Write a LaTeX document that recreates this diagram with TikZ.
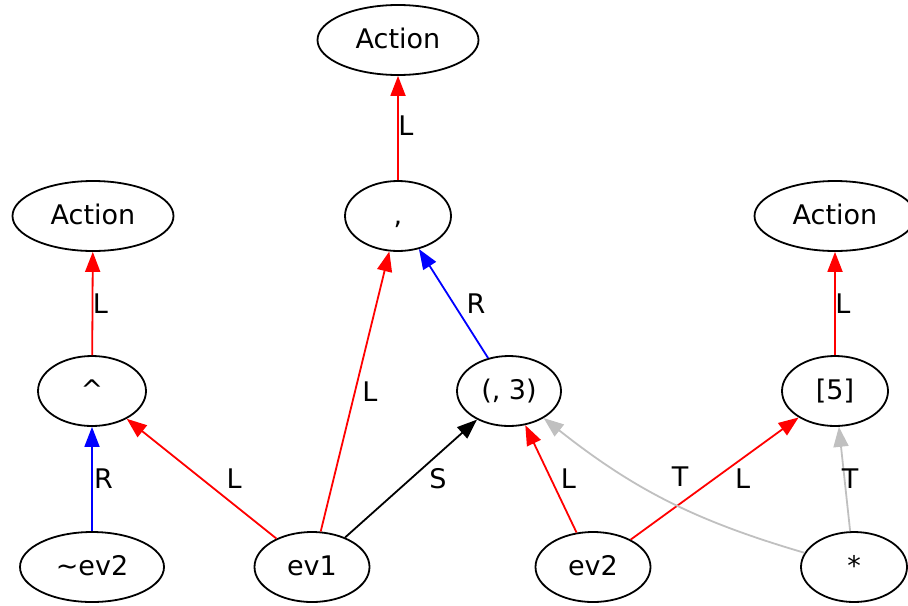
\documentclass[tikz,border=0pt]{standalone}
\usepackage{fontspec}
\setmainfont{DejaVu Sans}
\usetikzlibrary{shapes}
\usetikzlibrary{arrows.meta}
\definecolor{edgegray}{RGB}{192,192,192}
\tikzset{
  tok/.style={draw, ellipse, line width=0.9pt, inner sep=1pt, minimum width=53pt, minimum height=35pt, text height=10.5pt, text depth=2.5pt, font=\fontsize{13.5}{16}\selectfont},
  wide/.style={tok, minimum width=80.5pt},
  lbl/.style={inner sep=0pt, text=black, font=\fontsize{13.5}{16}\selectfont},
  link/.style={line width=0.9pt, -{Triangle[length=10pt,width=7.5pt]}}
}
\newcommand{\lnk}[5]{\draw[link, #1] (#2) -- node[lbl, #5] {#4} (#3);}

\begin{document}
\begin{tikzpicture}[x=0.5pt, y=-0.5pt]
    \useasboundingbox (0,0) rectangle (908,605);
    % rank1
    \node[wide] (act1) at (398,40) {Action};
    % rank2
    \node[wide] (act0) at (93,216) {Action};
    \node[tok] (comma) at (398,216) {,};
    \node[wide] (act2) at (835,216) {Action};
    % rank3
    \node[tok, minimum width=54pt] (caret) at (92,391) {\textasciicircum};
    \node[tok, minimum width=52pt] (pair) at (509,391) {(, 3)};
    \node[tok] (idx) at (835,391) {[5]};
    % rank4
    \node[tok, minimum width=72pt] (nev2) at (92,567) {\textasciitilde ev2};
    \node[tok, minimum width=57.5pt] (ev1) at (312,567) {ev1};
    \node[tok, minimum width=57.5pt] (ev2) at (593,567) {ev2};
    \node[tok] (star) at (854,567) {*};
    % edges
    \lnk{red}{comma}{act1}{L}{xshift=4pt, yshift=1pt}
    \lnk{red}{caret}{act0}{L}{xshift=4pt}
    \lnk{red}{idx}{act2}{L}{xshift=4pt}
    \lnk{blue}{pair}{comma}{R}{xshift=11.25pt}
    \lnk{blue}{nev2}{caret}{R}{xshift=5.75pt}
    \lnk{red}{ev1}{caret}{L}{xshift=16.25pt}
    \lnk{red}{ev1}{comma}{L}{xshift=7.5pt}
    \lnk{black}{ev1}{pair}{S}{xshift=13.5pt}
    \lnk{red}{ev2}{pair}{L}{xshift=8.75pt}
    \lnk{red}{ev2}{idx}{L}{xshift=14pt}
    \draw[link, edgegray] (star) to[bend left=11] node[lbl, xshift=6.75pt, yshift=11.75pt] {T} (pair);
    \lnk{edgegray}{star}{idx}{T}{xshift=2.75pt}
\end{tikzpicture}
\end{document}
